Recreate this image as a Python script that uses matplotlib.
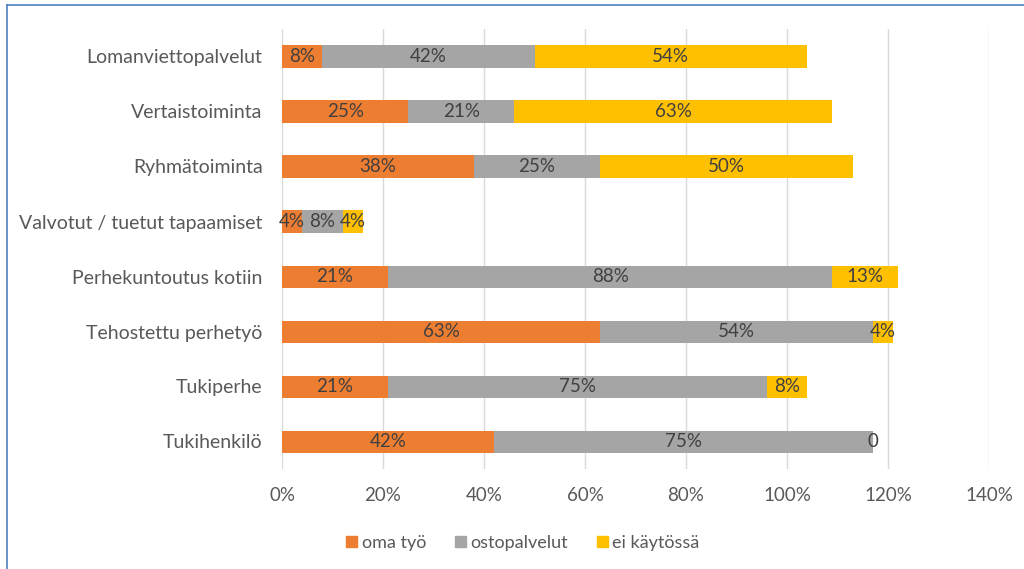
import matplotlib
matplotlib.use("Agg")
import matplotlib.pyplot as plt
from matplotlib.lines import Line2D
import numpy as np

plt.rcParams['font.family'] = ['Lato', 'DejaVu Sans']

categories = ["Lomanviettopalvelut", "Vertaistoiminta", "Ryhmätoiminta",
              "Valvotut / tuetut tapaamiset", "Perhekuntoutus kotiin",
              "Tehostettu perhetyö", "Tukiperhe", "Tukihenkilö"]
oma_tyo = [8, 25, 38, 4, 21, 63, 21, 42]
ostopalvelut = [42, 21, 25, 8, 88, 54, 75, 75]
ei_kaytossa = [54, 63, 50, 4, 13, 4, 8, 0]
series_names = ["oma työ", "ostopalvelut", "ei käytössä"]
xticks = [0, 20, 40, 60, 80, 100, 120, 140]

colors = ["#ED7D31", "#A5A5A5", "#FFC000"]
text_col = "#404040"
axis_col = "#595959"

fig = plt.figure(figsize=(10.24, 5.69), dpi=100)
ax = fig.add_axes([282 / 1024, 1 - 469 / 569, (989 - 282) / 1024, (469 - 29) / 569])

y = np.arange(len(categories))[::-1]
left = np.zeros(len(categories))
for vals, col, name in zip([oma_tyo, ostopalvelut, ei_kaytossa], colors, series_names):
    vals = np.array(vals, dtype=float)
    ax.barh(y, vals, left=left, height=0.4, color=col, label=name, zorder=3)
    for yi, l, v in zip(y, left, vals):
        txt = f"{v:.0f}%" if v > 0 else "0"
        ax.text(l + v / 2, yi, txt, ha="center", va="center",
                fontsize=13.5, color=text_col, zorder=4)
    left += vals

ax.set_xlim(0, 140)
ax.set_ylim(-0.5, len(categories) - 0.5)
ax.set_xticks(xticks)
ax.set_xticklabels([f"{t}%" for t in xticks], fontsize=13.5, color=axis_col)
ax.set_yticks(y)
ax.set_yticklabels(categories, fontsize=14, color=axis_col)
ax.tick_params(axis="both", length=0)
ax.tick_params(axis="x", pad=13)
ax.tick_params(axis="y", pad=14)
ax.grid(axis="x", color="#D9D9D9", linewidth=1, zorder=0)
for s in ax.spines.values():
    s.set_visible(False)

handles = [plt.Rectangle((0, 0), 1, 1, color=c) for c in colors]
fig.legend(handles, series_names, loc="center", bbox_to_anchor=(523 / 1024, 1 - 543 / 569),
           ncol=3, frameon=False, fontsize=13, handlelength=0.6, handleheight=0.6,
           handletextpad=0.25, columnspacing=1.6, labelcolor=axis_col)

# frame lines of the surrounding panel
fig.add_artist(Line2D([7 / 1024, 1], [1 - 5 / 569, 1 - 5 / 569], color="#4F81BD", lw=1.2,
                      transform=fig.transFigure))
fig.add_artist(Line2D([7 / 1024, 7 / 1024], [0, 1 - 5 / 569], color="#4F81BD", lw=1.2,
                      transform=fig.transFigure))

fig.savefig("out.png", dpi=100)
